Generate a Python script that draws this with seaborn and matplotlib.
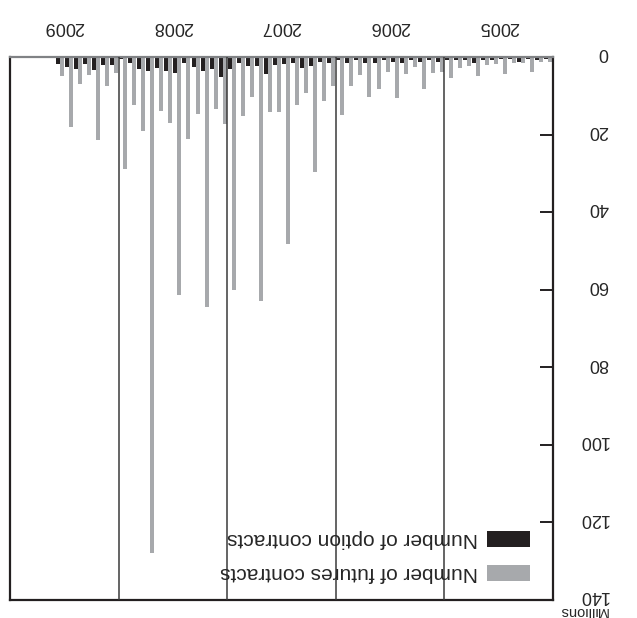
import matplotlib
matplotlib.use("Agg")
import matplotlib.pyplot as plt
from matplotlib.patches import Rectangle
from matplotlib.transforms import ScaledTranslation
import pandas as pd
import seaborn as sns

# monthly volumes, Jan 2005 .. Jul 2009 (millions of contracts)
months = pd.date_range("2005-01-01", "2009-07-01", freq="MS").strftime("%Y-%m").tolist()

futures = [
    1.2, 1.2, 3.8, 1.5, 1.5, 4.3, 1.7, 2.0, 4.8, 2.2, 2.8, 5.3,          # 2005
    3.8, 4.2, 8.2, 2.5, 4.5, 10.5, 3.8, 8.2, 10.2, 4.6, 7.6, 15.0,      # 2006
    7.6, 11.3, 29.6, 9.2, 12.5, 48.2, 14.1, 14.3, 62.9, 10.2, 15.1, 60.0,  # 2007
    17.4, 13.3, 64.4, 14.8, 21.2, 61.3, 16.9, 13.8, 127.9, 19.2, 12.5, 28.8,  # 2008
    4.0, 7.6, 21.3, 4.6, 7.0, 18.0, 4.9,                                # 2009
]
options = [
    0.5, 0.8, 0.5, 1.2, 0.5, 0.6, 0.8, 0.8, 1.5, 0.8, 0.8, 0.8,
    1.2, 0.9, 1.2, 0.8, 1.5, 1.2, 0.8, 1.5, 1.6, 0.9, 1.5, 0.8,
    1.5, 1.2, 2.4, 2.9, 1.6, 1.9, 2.0, 4.4, 2.2, 2.2, 1.6, 3.0,
    5.1, 3.2, 3.5, 2.5, 1.6, 4.2, 3.5, 2.9, 3.5, 3.0, 1.6, 0.5,
    2.0, 2.0, 3.3, 1.7, 3.0, 2.5, 1.7,
]

years = ["2005", "2006", "2007", "2008", "2009"]
y_ticks = [0, 20, 40, 60, 80, 100, 120, 140]

fut_label = "Number of futures contracts"
opt_label = "Number of option contracts"
grey = "#a7a9ac"
black = "#231f20"

df = pd.DataFrame({
    "month": months * 2,
    "contracts": futures + options,
    "series": [fut_label] * len(months) + [opt_label] * len(months),
})

sns.set_style("white")
plt.rcParams["font.family"] = ["Liberation Sans", "DejaVu Sans"]

fig = plt.figure(figsize=(6.37, 6.18), dpi=100)
ax = fig.add_axes([10 / 637, 18 / 618, 543 / 637, 543 / 618])

sns.barplot(
    data=df, x="month", y="contracts", hue="series",
    hue_order=[fut_label, opt_label], palette=[grey, black],
    width=0.88, saturation=1, linewidth=0, errorbar=None,
    legend=False, ax=ax,
)

# the whole chart is turned upside down: time runs right to left, 0 at top
ax.set_xlim(59.5, -0.5)
ax.set_ylim(140, 0)
ax.set_xlabel("")
ax.set_ylabel("")

# year dividers
for b in [11.5, 23.5, 35.5, 47.5]:
    ax.axvline(b, color="#3a3a3a", lw=1.1, zorder=3)

ax.xaxis.tick_top()
ax.set_xticks([12 * k + 5.5 for k in range(len(years))])
ax.set_xticklabels(years, rotation=180)
ax.tick_params(axis="x", length=0, pad=16, labelsize=13)

ax.yaxis.tick_right()
ax.set_yticks(y_ticks)
ax.set_yticklabels([str(v) for v in y_ticks], rotation=180, ha="right", va="center")
ax.tick_params(axis="y", direction="in", length=9.4, width=1.4,
               pad=40, labelsize=13, color=black)
# flipped digits sit a little low: nudge them up
lift = ScaledTranslation(0, 3 / 72, fig.dpi_scale_trans)
for lab in ax.get_yticklabels():
    lab.set_transform(lab.get_transform() + lift)

for side, sp in ax.spines.items():
    sp.set_visible(True)
    sp.set_linewidth(1.6)
    sp.set_color(black)
ax.spines["top"].set_color("#808285")

# legend (upside down too)
legend_rows = [(opt_label, black, 0.0976), (fut_label, grey, 0.035)]
for label, color, y0 in legend_rows:
    ax.add_patch(Rectangle((0.878, y0), 0.080, 0.0295, transform=ax.transAxes,
                           facecolor=color, edgecolor="none", zorder=4))
    ax.text(0.862, y0 + 0.0148, label, transform=ax.transAxes, rotation=180,
            ha="right", va="center", fontsize=15, zorder=4)

fig.text(583 / 637, 1 - 611 / 618, "Millions", rotation=180,
         ha="center", va="center", fontsize=10.5)

fig.savefig("out.png", dpi=100)
